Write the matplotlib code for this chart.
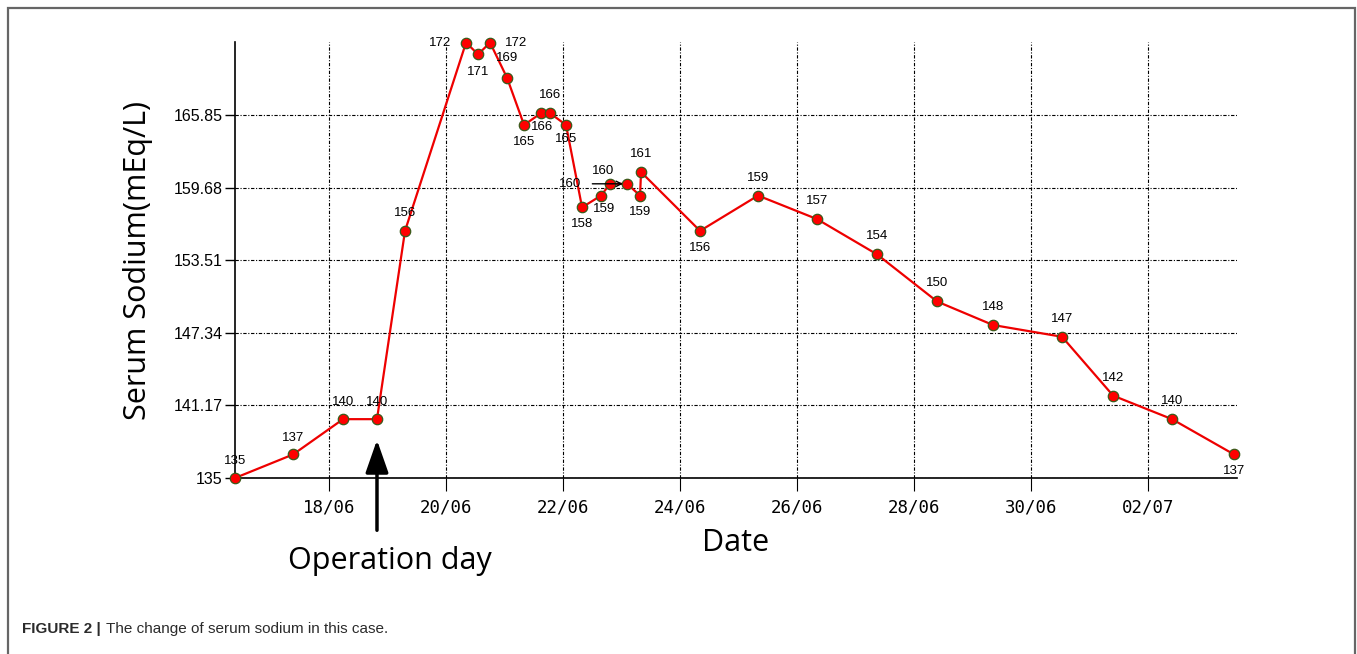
import numpy as np
import pandas as pd
import matplotlib
matplotlib.use("Agg")
import matplotlib.pyplot as plt
import matplotlib.dates as mdates
from matplotlib.patches import Rectangle

# sample times and serum sodium values
times = ["2016-06-16 09:25", "2016-06-17 09:15", "2016-06-18 05:45", "2016-06-18 19:40",
         "2016-06-19 07:10", "2016-06-20 08:12", "2016-06-20 13:08", "2016-06-20 18:03",
         "2016-06-21 01:02", "2016-06-21 08:00", "2016-06-21 14:58", "2016-06-21 18:40",
         "2016-06-22 01:13", "2016-06-22 07:48", "2016-06-22 15:36", "2016-06-22 19:16",
         "2016-06-23 02:15", "2016-06-23 07:35", "2016-06-23 08:00", "2016-06-24 08:12",
         "2016-06-25 08:00", "2016-06-26 08:12", "2016-06-27 08:50", "2016-06-28 09:26",
         "2016-06-29 08:24", "2016-06-30 12:43", "2016-07-01 09:39", "2016-07-02 09:50",
         "2016-07-03 11:17"]
sodium = [135, 137, 140, 140, 156, 172, 171, 172, 169, 165, 166, 166, 165, 158, 159,
          160, 160, 159, 161, 156, 159, 157, 154, 150, 148, 147, 142, 140, 137]

yticks = [135, 141.17, 147.34, 153.51, 159.68, 165.85]
xtick_dates = ["2016-06-18", "2016-06-20", "2016-06-22", "2016-06-24", "2016-06-26",
               "2016-06-28", "2016-06-30", "2016-07-02"]
xtick_labels = ["18/06", "20/06", "22/06", "24/06", "26/06", "28/06", "30/06", "02/07"]

# label offsets in points (dx, dy) for each point
lab_off = [(0, 12), (0, 12), (0, 12), (0, 12), (0, 13), (-19, 0), (0, -13), (19, 0),
           (0, 14), (0, -12), (1, -10), (0, 13), (0, -10), (0, -12), (2, -10),
           (-5, 9), None, (0, -12), (0, 13), (0, -12), (0, 13), (0, 13), (0, 13),
           (0, 13), (0, 13), (0, 13), (0, 13), (0, 13), (0, -12)]

t = mdates.date2num(pd.to_datetime(times))
xt = mdates.date2num(pd.to_datetime(xtick_dates))

fig = plt.figure(figsize=(13.57, 6.54), dpi=100)
ax = fig.add_axes([235/1357, 1 - 478/654, 1002/1357, 436/654])

ax.plot(t, sodium, color="#ee0000", lw=1.6, marker="o", ms=7.5,
        mfc="#ff0000", mec="#3a5a1a", mew=0.9, zorder=3, clip_on=False)

for i, (x, v) in enumerate(zip(t, sodium)):
    off = lab_off[i]
    if off is None:
        ax.annotate(str(v), xy=(x, v), xytext=(-41, 0), textcoords="offset points",
                    ha="center", va="center", fontsize=9.5, family="Liberation Sans",
                    arrowprops=dict(arrowstyle="->", color="black", lw=1.0,
                                    shrinkA=6, shrinkB=3))
    else:
        ax.annotate(str(v), xy=(x, v), xytext=off, textcoords="offset points",
                    ha="center", va="center", fontsize=9.5, family="Liberation Sans")

ax.set_ylim(135, 172.05)
ax.set_xlim(t[0], t[-1] + 0.05)
ax.set_yticks(yticks)
ax.set_yticklabels(["135", "141.17", "147.34", "153.51", "159.68", "165.85"],
                   family="Liberation Sans", fontsize=11.5)
ax.set_xticks(xt)
ax.set_xticklabels(xtick_labels, family="DejaVu Sans Mono", fontsize=12.5)
ax.tick_params(axis="y", length=7, width=1, direction="out", pad=2)
ax.tick_params(axis="x", length=9, width=0.8, direction="out", pad=6)

gls = (0, (3, 1.5, 1, 1.5))
ax.grid(True, color="black", lw=0.8, linestyle=gls)
ax.set_axisbelow(True)
for s in ["top", "right"]:
    ax.spines[s].set_visible(False)
for s in ["left", "bottom"]:
    ax.spines[s].set_linewidth(1.2)

ax.set_xlabel("Date", family="Open Sans", fontsize=22, labelpad=8)
ax.set_ylabel("Serum Sodium(mEq/L)", family="Open Sans", fontsize=22, labelpad=15)

# operation day arrow
ax.annotate("", xy=(t[3], sodium[3]), xytext=(0, -80), textcoords="offset points",
            arrowprops=dict(arrowstyle="-|>,head_length=1.0,head_width=0.35",
                            mutation_scale=20, color="black", lw=2.5,
                            shrinkA=0, shrinkB=15), annotation_clip=False)
ax.annotate("Operation day", xy=(t[3], sodium[3]), xytext=(9.5, -102),
            textcoords="offset points", ha="center", va="center",
            family="Open Sans", fontsize=22, annotation_clip=False)

# frame and caption
fig.patches.append(Rectangle((8/1357, -0.1), 1347/1357, 1.1 - 8/654,
                             transform=fig.transFigure, fill=False,
                             edgecolor="#666666", lw=1.6))
cap = fig.text(22/1357, 1 - 629/654, "FIGURE 2 |", fontsize=11, weight="bold",
               color="#2b2b2b", family="Liberation Sans", va="center")
plt.annotate("The change of serum sodium in this case.", xy=(1, 0.5), xycoords=cap,
             xytext=(4, 0), textcoords="offset points", va="center", ha="left",
             fontsize=11, color="#2b2b2b", family="Liberation Sans")

fig.savefig("out.png", dpi=100)
